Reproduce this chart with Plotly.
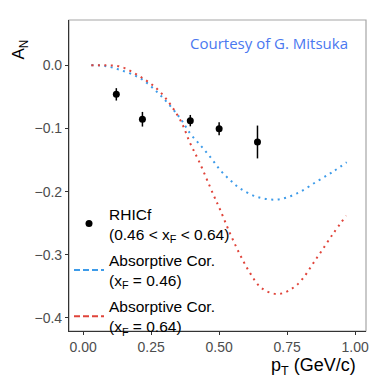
import plotly.graph_objects as go

# RHICf data points
pt_data = [0.122, 0.218, 0.394, 0.500, 0.641]
an_data = [-0.046, -0.0854, -0.0876, -0.1003, -0.1214]
an_err = [0.0098, 0.0116, 0.0090, 0.0103, 0.026]

# Absorptive correction, xF = 0.46 (blue)
pt_blue = [0.03, 0.08, 0.136, 0.21, 0.283, 0.357, 0.393, 0.43, 0.467, 0.504, 0.54,
           0.577, 0.638, 0.712, 0.785, 0.859, 0.92, 0.969]
an_blue = [0.0, -0.001, -0.0074, -0.0206, -0.047, -0.084, -0.1076, -0.126, -0.145,
           -0.166, -0.1815, -0.195, -0.208, -0.2125, -0.203, -0.184, -0.168, -0.1535]

# Absorptive correction, xF = 0.64 (red)
pt_red = [0.03, 0.08, 0.136, 0.21, 0.283, 0.357, 0.393, 0.426, 0.479, 0.504, 0.54,
          0.577, 0.614, 0.657, 0.718, 0.785, 0.859, 0.92, 0.967]
an_red = [0.0, 0.0, -0.002, -0.018, -0.042, -0.0866, -0.123, -0.152, -0.205, -0.229,
          -0.266, -0.300, -0.329, -0.353, -0.362, -0.348, -0.305, -0.266, -0.238]

x_ticks = [0.0, 0.25, 0.5, 0.75, 1.0]
x_ticklabels = ["0.00", "0.25", "0.50", "0.75", "1.00"]
y_ticks = [0.0, -0.1, -0.2, -0.3, -0.4]
y_ticklabels = ["0.0", "\u22120.1", "\u22120.2", "\u22120.3", "\u22120.4"]

BLUE = "#3d9be9"
RED = "#e0443a"
FONT = "Liberation Sans, Arial, sans-serif"

fig = go.Figure()

fig.add_trace(go.Scatter(x=pt_blue, y=an_blue, mode="lines", line=dict(color=BLUE, width=2, dash="2px,4.5px", shape="spline"),
                         showlegend=False, hoverinfo="skip"))
fig.add_trace(go.Scatter(x=pt_red, y=an_red, mode="lines", line=dict(color=RED, width=2, dash="2px,4.5px", shape="spline"),
                         showlegend=False, hoverinfo="skip"))

fig.add_trace(go.Scatter(x=pt_data, y=an_data, mode="markers",
                         marker=dict(color="black", size=7),
                         error_y=dict(type="data", array=an_err, color="black", thickness=1.5, width=0),
                         name="RHICf<br>(0.46 &lt; x<sub>F</sub> &lt; 0.64)", legendgroup="a"))
fig.add_trace(go.Scatter(x=[None], y=[None], mode="lines", line=dict(color=BLUE, width=2, dash="6px,3px"),
                         name="Absorptive Cor.<br>(x<sub>F</sub> = 0.46)", legendgroup="b"))
fig.add_trace(go.Scatter(x=[None], y=[None], mode="lines", line=dict(color=RED, width=2, dash="6px,3px"),
                         name="Absorptive Cor.<br>(x<sub>F</sub> = 0.64)", legendgroup="c"))

# page body has an 8px margin, so the figure is laid out 8px up/left of the target
fig.update_layout(
    width=382, height=382,
    margin=dict(l=61, r=24, t=12, b=59, autoexpand=False),
    paper_bgcolor="white", plot_bgcolor="white",
    font=dict(family=FONT, color="black"),
    showlegend=True,
    legend=dict(x=0.0, y=0.431, xanchor="left", yanchor="top",
                bgcolor="rgba(0,0,0,0)", font=dict(size=15.5, family=FONT, color="black"),
                tracegroupgap=3, itemwidth=30),
    xaxis=dict(range=[-0.052, 1.04], tickvals=x_ticks, ticktext=x_ticklabels,
               showgrid=False, zeroline=False, showline=True, linecolor="#333333", linewidth=1.2,
               ticks="outside", ticklen=3, tickcolor="#333333", tickwidth=1,
               tickfont=dict(size=14, color="#4d4d4d", family=FONT)),
    yaxis=dict(range=[-0.4206, 0.0717], tickvals=y_ticks, ticktext=y_ticklabels,
               showgrid=False, zeroline=False, showline=True, linecolor="#333333", linewidth=1.2,
               ticks="outside", ticklen=3, tickcolor="#333333", tickwidth=1,
               tickfont=dict(size=14, color="#4d4d4d", family=FONT)),
    shapes=[dict(type="rect", xref="paper", yref="paper", x0=0, x1=1, y0=0, y1=1,
                 line=dict(color="#a6a6a6", width=1.2), layer="below")],
    annotations=[
        dict(text="A<sub>N</sub>", xref="paper", yref="paper", x=-0.165, y=0.905,
             textangle=-90, showarrow=False, font=dict(size=17, family=FONT, color="black"),
             xanchor="center", yanchor="middle"),
        dict(text="p<sub>T</sub> (GeV/c)", xref="paper", yref="paper", x=0.972, y=-0.115,
             showarrow=False, font=dict(size=18, family=FONT, color="black"),
             xanchor="right", yanchor="middle"),
        dict(text="Courtesy of G. Mitsuka", xref="paper", yref="paper", x=0.946, y=0.925,
             showarrow=False, font=dict(size=15, family="Open Sans, sans-serif", color="#4a78f0"),
             xanchor="right", yanchor="middle"),
    ],
)

fig.write_html("out.html")
